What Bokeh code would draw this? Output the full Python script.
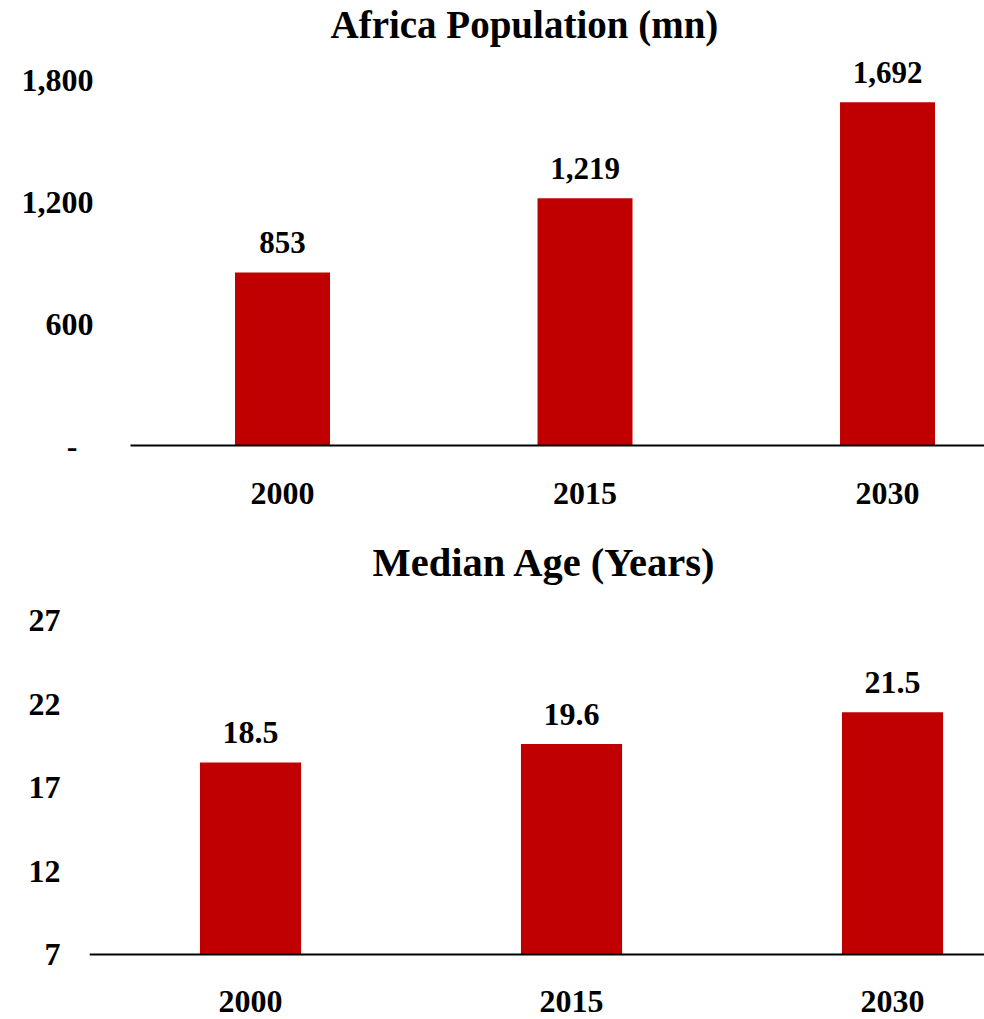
from bokeh.plotting import figure
from bokeh.layouts import column
from bokeh.models import Range1d, FixedTicker, NumeralTickFormatter, ColumnDataSource, Span
from bokeh.core.properties import value
from bokeh.embed import file_html
from bokeh.resources import INLINE

years = ["2000", "2015", "2030"]
population = [853, 1219, 1692]
median_age = [18.5, 19.6, 21.5]
pop_ticks = [0, 600, 1200, 1800]
age_ticks = [7, 12, 17, 22, 27]
age_base = 7

FONT = "Liberation Serif"
RED = "#C00000"


def style(p, tick_standoff_y, title_offset, title_size):
    p.frame_align = False
    p.xgrid.visible = False
    p.ygrid.visible = False
    p.outline_line_color = None
    p.background_fill_color = "white"
    p.border_fill_color = "white"
    for ax in p.xaxis + p.yaxis:
        ax.major_tick_line_color = None
        ax.minor_tick_line_color = None
        ax.major_tick_out = 0
        ax.major_tick_in = 0
        ax.minor_tick_out = 0
        ax.minor_tick_in = 0
        ax.major_label_text_font = FONT
        ax.major_label_text_font_style = "bold"
        ax.major_label_text_font_size = "32px"
        ax.major_label_text_color = "black"
    p.yaxis[0].axis_line_color = None
    p.yaxis[0].major_label_standoff = tick_standoff_y
    p.title.text_font = FONT
    p.title.text_font_style = "bold"
    p.title.text_font_size = title_size
    p.title.align = "left"
    p.title.offset = title_offset
    p.title.standoff = 0
    p.title.text_color = "black"


xs = list(range(len(years)))

# ---- Population chart
p1 = figure(width=984, height=520, output_backend="svg", toolbar_location=None,
            title="Africa Population (mn)",
            x_range=Range1d(-0.5025, -0.5025 + 854 / 302.5),
            y_range=Range1d(0, 1972),
            min_border_left=130, min_border_right=0, min_border_top=44, min_border_bottom=75)
style(p1, 37, 200, "39px")
p1.xaxis[0].axis_line_color = "black"
p1.xaxis[0].axis_line_width = 2
p1.xaxis[0].major_label_standoff = 37
src1 = ColumnDataSource(dict(x=xs, y=population, lab=[f"{v:,}" for v in population]))
p1.vbar(x="x", top="y", bottom=0, width=0.314, source=src1, fill_color=RED, line_color=None)
p1.text(x="x", y="y", text="lab", source=src1, text_align="center", text_baseline="alphabetic",
        y_offset=-30, text_font=value(FONT), text_font_style="bold", text_font_size="31px",
        text_color="black")
p1.xaxis[0].ticker = FixedTicker(ticks=xs)
p1.xaxis[0].major_label_overrides = {i: y for i, y in zip(xs, years)}
p1.yaxis[0].ticker = FixedTicker(ticks=pop_ticks)
p1.yaxis[0].formatter = NumeralTickFormatter(format="0,0")
p1.yaxis[0].major_label_overrides = {0: "-\u00a0\u00a0"}

# ---- Median age chart (frame reaches the bottom so the year labels sit inside it)
px_per_unit = 16.7
p2 = figure(width=984, height=499, output_backend="svg", toolbar_location=None,
            title="Median Age (Years)", x_axis_location=None,
            x_range=Range1d(-0.5016, -0.5016 + 895 / 321),
            y_range=Range1d(age_base - 65 / px_per_unit, age_base + 370 / px_per_unit),
            min_border_left=89, min_border_right=0, min_border_top=64, min_border_bottom=0)
style(p2, 29, 283, "40.5px")
src2 = ColumnDataSource(dict(x=xs, y=median_age, lab=[f"{v:.1f}" for v in median_age],
                             yr=years, base=[age_base] * len(xs)))
p2.vbar(x="x", top="y", bottom=age_base, width=0.315, source=src2, fill_color=RED, line_color=None)
p2.add_layout(Span(location=age_base, dimension="width", line_color="black", line_width=2))
p2.text(x="x", y="y", text="lab", source=src2, text_align="center", text_baseline="alphabetic",
        y_offset=-30, text_font=value(FONT), text_font_style="bold", text_font_size="32px",
        text_color="black")
p2.text(x="x", y="base", text="yr", source=src2, text_align="center", text_baseline="middle",
        y_offset=47, text_font=value(FONT), text_font_style="bold", text_font_size="32px",
        text_color="black")
p2.yaxis[0].ticker = FixedTicker(ticks=age_ticks)

layout = column(p1, p2, spacing=0)
open("out.html", "w").write(file_html(layout, INLINE))
